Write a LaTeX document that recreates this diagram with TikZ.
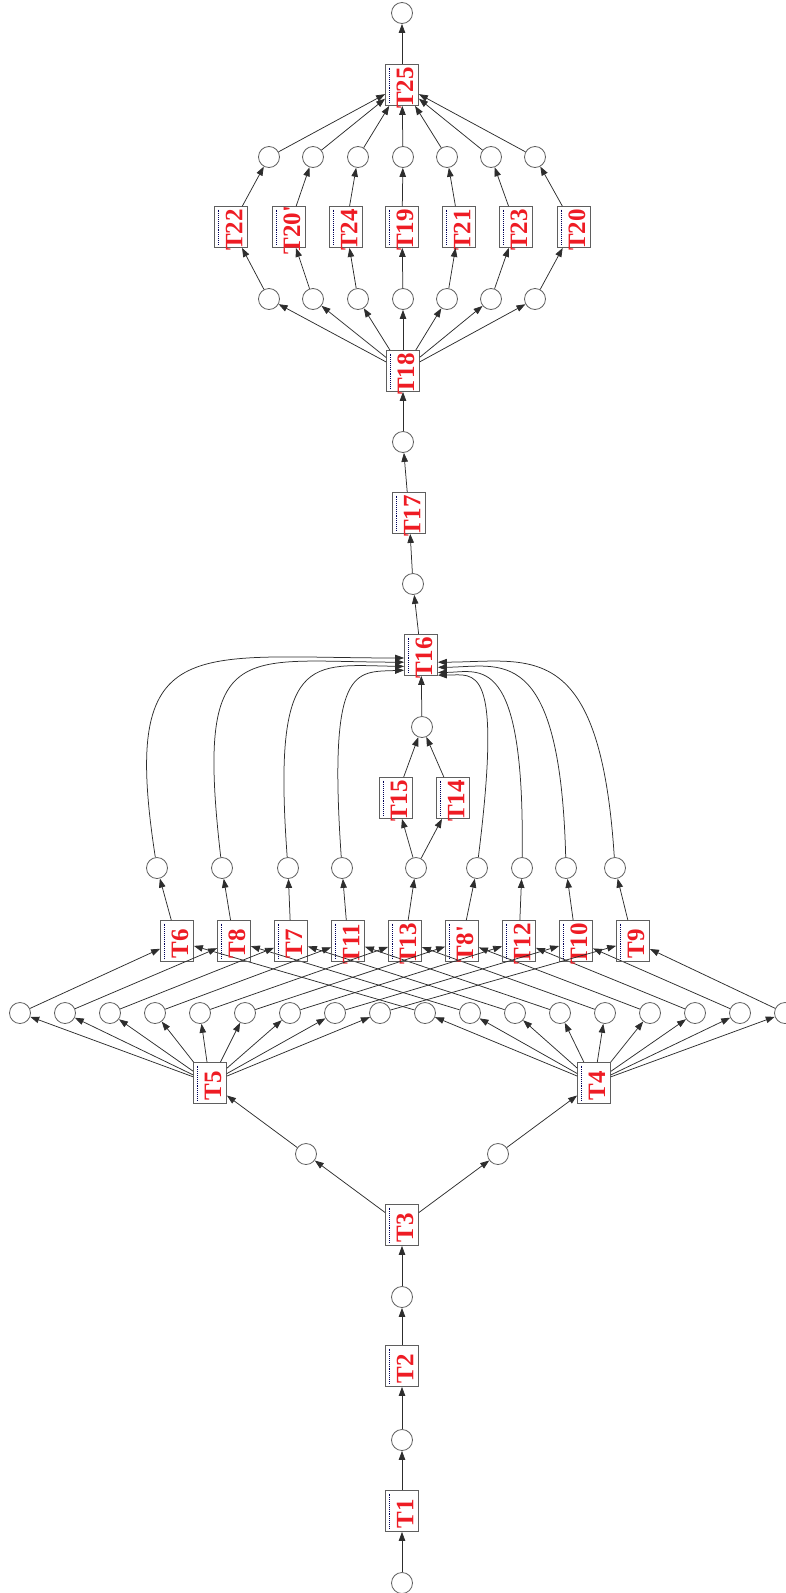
\documentclass[tikz,border=0pt]{standalone}
\usepackage{fontspec}
\usetikzlibrary{arrows.meta}
\newfontfamily\lblfont{Liberation Serif}
\definecolor{lbl}{RGB}{238,28,36}
\definecolor{edg}{RGB}{45,45,45}
\definecolor{brd}{RGB}{95,95,95}

\begin{document}
\begin{tikzpicture}[x=1pt,y=-1pt,
    place/.style={circle,draw=brd,line width=0.8pt,minimum size=21pt,inner sep=0pt},
    trans/.style={rectangle,draw=brd,line width=0.8pt,minimum width=33pt,minimum height=41pt,inner sep=0pt,
      path picture={\draw[densely dotted,blue!35!black,line width=0.9pt]
        ([xshift=4pt,yshift=-3pt]path picture bounding box.north west) --
        ([xshift=4pt,yshift=3pt]path picture bounding box.south west);},
      label={[rotate=90,text=lbl,inner sep=0pt,xshift=-3pt,yshift=-3pt,
        font=\lblfont\bfseries\fontsize{25}{25}\selectfont]center:#1}},
    link/.style={draw=edg,line width=0.75pt,-{Triangle[length=9pt,width=6.5pt]}}]
  \useasboundingbox (0,0) rectangle (786,1593);

  % lower chain
  \node[place] (p0) at (402,1583) {};
  \node[trans=T1] (t1) at (402,1511) {};
  \node[place] (p1) at (402,1440) {};
  \node[trans=T2] (t2) at (402,1366) {};
  \node[place] (p2) at (402,1297) {};
  \node[trans=T3] (t3) at (402,1225) {};
  \node[place] (p3) at (306,1154) {};
  \node[place] (p4) at (498,1154) {};
  \node[trans=T5] (t5) at (210,1083) {};
  \node[trans=T4] (t4) at (594,1083) {};
  \draw[link] (p0) -- (t1);
  \draw[link] (t1) -- (p1);
  \draw[link] (p1) -- (t2);
  \draw[link] (t2) -- (p2);
  \draw[link] (p2) -- (t3);
  \draw[link] (t3) -- (p3);
  \draw[link] (t3) -- (p4);
  \draw[link] (p3) -- (t5);
  \draw[link] (p4) -- (t4);

  % wide row
  \foreach \i in {0,...,17}
    \node[place] (q\i) at ({20+45*\i},1013) {};
  \foreach \i/\lbl/\x/\px in {0/T6/177/157, 1/T8/234/222, 2/T7/291/288,
      3/T11/348/342, 4/T13/405/416, 5/T8'/462/477, 6/T12/519/522,
      7/T10/576/566, 8/T9/633/615}{
    \node[trans=\lbl] (m\i) at (\x,941) {};
    \node[place] (r\i) at (\px,868) {};
    \pgfmathtruncatemacro\j{\i+9}
    \draw[link] (t5) -- (q\i);
    \draw[link] (t4) -- (q\j);
    \draw[link] (q\i) -- (m\i);
    \draw[link] (q\j) -- (m\i);
    \draw[link] (m\i) -- (r\i);
  }

  % join
  \node[trans=T15] (t15) at (396,798) {};
  \node[trans=T14] (t14) at (453,798) {};
  \node[place] (s) at (422,727) {};
  \node[trans=T16] (t16) at (421,655) {};
  \draw[link] (r4) -- (t15);
  \draw[link] (r4) -- (t14);
  \draw[link] (t15) -- (s);
  \draw[link] (t14) -- (s);
  \draw[link] (s) -- (t16);
  \foreach \i/\ca/\cb/\ang in {0/{120,630}/{190,658}/190, 1/{195,635}/{240,662}/203,
      2/{272,650}/{310,665}/214, 3/{328,665}/{355,672}/222,
      5/{503,660}/{475,675}/310, 6/{525,650}/{480,672}/314,
      7/{560,640}/{500,667}/324, 8/{600,635}/{530,662}/337}
    \draw[link] (r\i) .. controls (\ca) and (\cb) .. (t16.\ang);

  % upper chain
  \node[place] (p5) at (413,584) {};
  \node[trans=T17] (t17) at (409,513) {};
  \node[place] (p6) at (403,442) {};
  \node[trans=T18] (t18) at (403,371) {};
  \draw[link] (t16) -- (p5);
  \draw[link] (p5) -- (t17);
  \draw[link] (t17) -- (p6);
  \draw[link] (p6) -- (t18);
  \node[trans=T25] (t25) at (402,85) {};
  \node[place] (p7) at (402,13) {};
  \foreach \i/\lbl/\x/\px in {1/T22/231/269, 2/T20'/289/313, 3/T24/346/358,
      4/T19/402/403, 5/T21/459/447, 6/T23/516/491, 7/T20/574/535}{
    \node[place] (u\i) at (\px,299) {};
    \node[trans=\lbl] (k\i) at (\x,227) {};
    \node[place] (v\i) at (\px,157) {};
    \draw[link] (t18) -- (u\i);
    \draw[link] (u\i) -- (k\i);
    \draw[link] (k\i) -- (v\i);
    \draw[link] (v\i) -- (t25);
  }
  \draw[link] (t25) -- (p7);
\end{tikzpicture}
\end{document}
